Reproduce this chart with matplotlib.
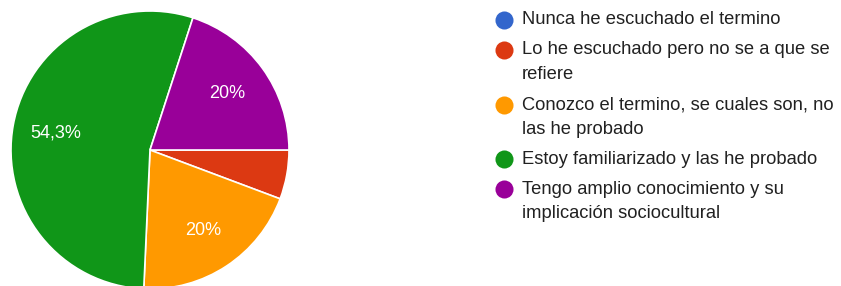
import matplotlib.pyplot as plt

# respuestas (35 en total)
categorias = [
    "Nunca he escuchado el termino",
    "Lo he escuchado pero no se a que se\nrefiere",
    "Conozco el termino, se cuales son, no\nlas he probado",
    "Estoy familiarizado y las he probado",
    "Tengo amplio conocimiento y su\nimplicación sociocultural",
]
respuestas = [0, 2, 7, 19, 7]
colores = ["#3366cc", "#dc3912", "#ff9900", "#109618", "#990099"]

plt.rcParams['font.family'] = ['Liberation Sans', 'DejaVu Sans']

W, H = 841, 286
fig = plt.figure(figsize=(W / 100, H / 100), dpi=100)


def etiqueta(pct):
    if pct < 10:
        return ""
    s = f"{pct:.1f}"
    if s.endswith(".0"):
        s = s[:-2]
    return s.replace(".", ",") + "%"


# pastel
r = 139
cx, cy = 150, 150
ax = fig.add_axes([(cx - r) / W, (H - cy - r) / H, 2 * r / W, 2 * r / H])
wedges, textos, autotextos = ax.pie(
    respuestas, colors=colores, startangle=0, counterclock=False,
    autopct=etiqueta, pctdistance=0.69,
    wedgeprops=dict(edgecolor="white", linewidth=1.2),
    textprops=dict(color="white", fontsize=13),
)
ax.set_xlim(-1, 1)
ax.set_ylim(-1, 1)
ax.set_aspect("equal")
ax.axis("off")

# leyenda a mano (marcador alineado con la primera linea)
ley = fig.add_axes([0, 0, 1, 1])
ley.set_xlim(0, W)
ley.set_ylim(H, 0)
ley.axis("off")
y = 20
for cat, col in zip(categorias, colores):
    ley.plot(504, y, "o", color=col, markersize=13, markeredgewidth=0)
    ley.text(522, y - 8.5, cat, fontsize=13.2, color="#212121", va="top",
             ha="left", linespacing=1.6)
    y += 30 + 24.5 * cat.count("\n")

fig.savefig("out.png", dpi=100)
